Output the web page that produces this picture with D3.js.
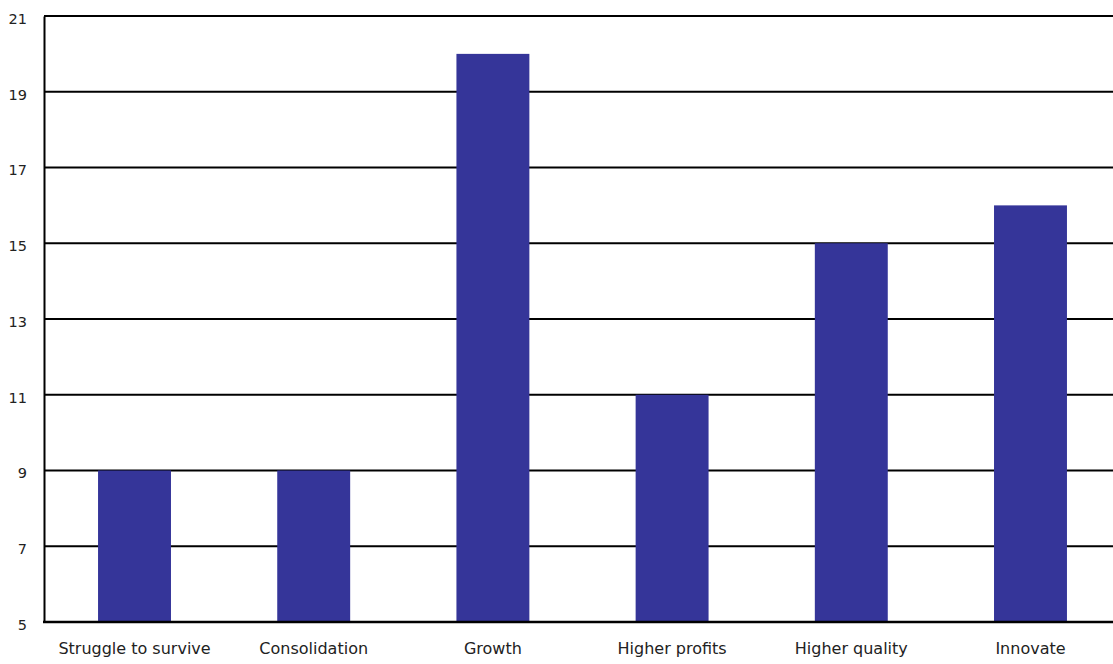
<!DOCTYPE html>
<html><head><meta charset="utf-8">
<script src="https://cdn.jsdelivr.net/npm/d3@7"></script>
<style>body{margin:0;background:#fff;}svg{display:block;font-family:"DejaVu Sans",sans-serif;}</style>
</head><body>
<svg id="c" width="1113" height="664"></svg>
<script>
const categories = ["Struggle to survive","Consolidation","Growth","Higher profits","Higher quality","Innovate"];
const values = [9, 9, 20, 11, 15, 16];
const yTicks = [5, 7, 9, 11, 13, 15, 17, 19, 21];

const svg = d3.select("#c");
const x = d3.scaleBand().domain(categories).range([45, 1120]).paddingInner(0.593).paddingOuter(0.296);
const y = d3.scaleLinear().domain([5, 21]).range([622, 16]);

// gridlines
svg.append("g").selectAll("line").data(yTicks).join("line")
  .attr("x1", 44).attr("x2", 1113)
  .attr("y1", d => y(d)).attr("y2", d => y(d))
  .attr("stroke", "#000").attr("stroke-width", 2);

// bars
svg.append("g").selectAll("rect").data(values).join("rect")
  .attr("x", (d, i) => x(categories[i]))
  .attr("width", x.bandwidth())
  .attr("y", d => y(d))
  .attr("height", d => y(5) - y(d))
  .attr("fill", "#353599");

const fam = "DejaVu Sans, sans-serif";
// y axis
const ya = svg.append("g").attr("transform", "translate(44,0)")
  .call(d3.axisLeft(y).tickValues(yTicks).tickSize(0).tickPadding(17).tickFormat(d3.format("d")));
ya.select(".domain").attr("stroke", "#000").attr("stroke-width", 2);
ya.selectAll("text").attr("font-size", 14.5).attr("fill", "#222").attr("font-family", fam).attr("dy", "0.5em");

// x axis
const xa = svg.append("g").attr("transform", "translate(0,622)")
  .call(d3.axisBottom(x).tickSize(0).tickPadding(21));
xa.select(".domain").remove();
svg.append("line").attr("x1", 43).attr("x2", 1113).attr("y1", 622).attr("y2", 622).attr("stroke", "#000").attr("stroke-width", 2.5);
xa.selectAll("text").attr("font-size", 16).attr("fill", "#222").attr("font-family", fam);
</script>
</body></html>
